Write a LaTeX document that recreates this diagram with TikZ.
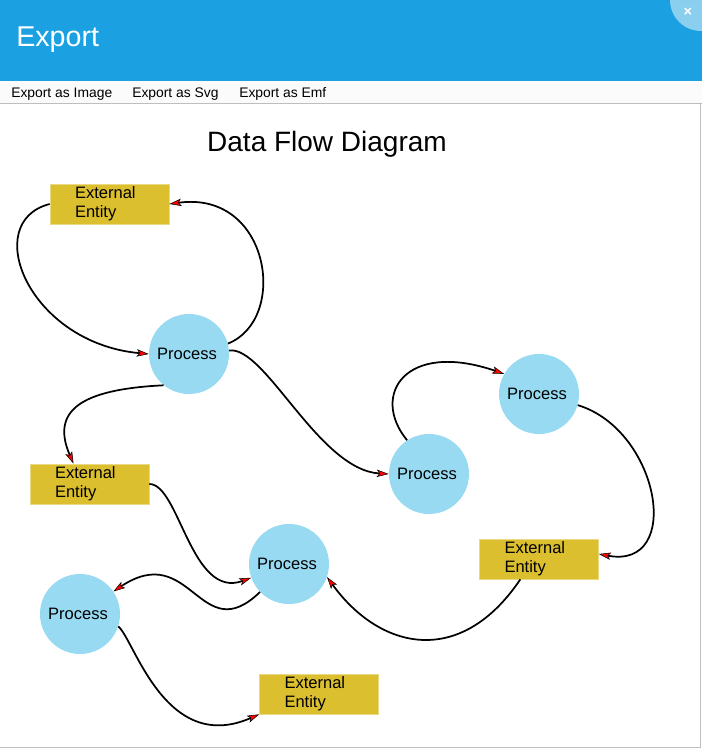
\documentclass[tikz,border=0pt]{standalone}
\usepackage{fontspec}
\setmainfont{Liberation Sans}
\usetikzlibrary{arrows.meta}

\definecolor{barblue}{RGB}{27,161,226}
\definecolor{closeblue}{RGB}{138,207,238}
\definecolor{entitygold}{RGB}{219,191,47}
\definecolor{processblue}{RGB}{151,218,242}
\definecolor{framegray}{RGB}{190,190,190}

\tikzset{
	entity/.style={rectangle, fill=entitygold, draw=entitygold!60!white, line width=0.5pt,
		text width=51.75pt, inner xsep=18.75pt, inner ysep=0pt, minimum height=30pt,
		align=left, font=\fontsize{12.4}{14.25}\selectfont},
	process/.style={circle, fill=processblue, minimum size=60pt, inner sep=0pt,
		font=\fontsize{12.4}{14}\selectfont},
	flow/.style={line width=1.3pt,
		-{Stealth[length=9pt,width=5.5pt,inset=2pt,line width=0.4pt,fill=red]}},
	menu/.style={anchor=base west, inner sep=0pt, font=\fontsize{10.4}{12}\selectfont},
}

\begin{document}
\begin{tikzpicture}[x=0.75pt,y=-0.75pt]
	\useasboundingbox (0,0) rectangle (702,749);
	\clip (0,0) rectangle (702,749);

	\fill[white] (0,0) rectangle (702,749); % Page
	\fill[barblue] (0,0) rectangle (702,81); % Title bar
	\fill[closeblue] (701,0) circle [radius=31]; % Close button
	\node[text=white, font=\bfseries\fontsize{11}{11}\selectfont] (close) at (688,12) {×};
	\node[anchor=west, inner sep=0pt, text=white, font=\fontsize{21.5}{21.5}\selectfont] (caption) at (16,40) {Export};

	\fill[gray!3] (0,81) rectangle (702,103); % Menu
	\draw[framegray] (0,103) -- (702,103);
	\node[menu] (asimage) at (11,98) {Export as Image};
	\node[menu] (assvg) at (132,98) {Export as Svg};
	\node[menu] (asemf) at (239,98) {Export as Emf};
	\draw[framegray] (700,103) -- (700,747) -- (0,747); % Frame

	\node[font=\fontsize{21}{21}\selectfont] (title) at (327,144) {Data Flow Diagram};

	% Entities and processes
	\node[entity] (ee1) at (109.5,204) {External\\Entity};
	\node[process] (p1) at (189,354) {\hspace*{-3pt}Process};
	\node[entity] (ee2) at (89.5,484) {External\\Entity};
	\node[process] (p2) at (289,564) {\hspace*{-3pt}Process};
	\node[process] (p3) at (80,614) {\hspace*{-3pt}Process};
	\node[entity] (ee3) at (319,694) {External\\Entity};
	\node[process] (p4) at (429,474) {\hspace*{-3pt}Process};
	\node[process] (p5) at (539,394) {\hspace*{-3pt}Process};
	\node[entity] (ee4) at (539,559) {External\\Entity};

	% Flows
	\draw[flow] (ee1.west) .. controls +(-70,18) and +(-120,-11) .. (p1.west);
	\draw[flow] (p1.15) .. controls +(61,-24) and +(101,-14) .. (ee1.east);
	\draw[flow] (p1.5) .. controls +(36,-5) and +(-70,-4) .. (p4.west);
	\draw[flow] (p1.231) .. controls +(-83,4) and +(-23,-53) .. ([xshift=-12pt]ee2.north);
	\draw[flow] (ee2.east) .. controls +(30,0) and +(-60,22) .. (p2.200);
	\draw[flow] (p2.224) .. controls +(-60,58) and +(78,-52) .. (p3.34);
	\draw[flow] (p3.342) .. controls +(16,13) and +(-94,41) .. (ee3.south west);
	\draw[flow] ([xshift=-14pt]ee4.south) .. controls +(-60,89) and +(53,73) .. (p2.341);
	\draw[flow] (p4.123) .. controls +(-37,-45) and +(-99,-34) .. (p5.150);
	\draw[flow] (p5.344) .. controls +(82,25) and +(85,16) .. ([yshift=3.75pt]ee4.east);
\end{tikzpicture}
\end{document}
